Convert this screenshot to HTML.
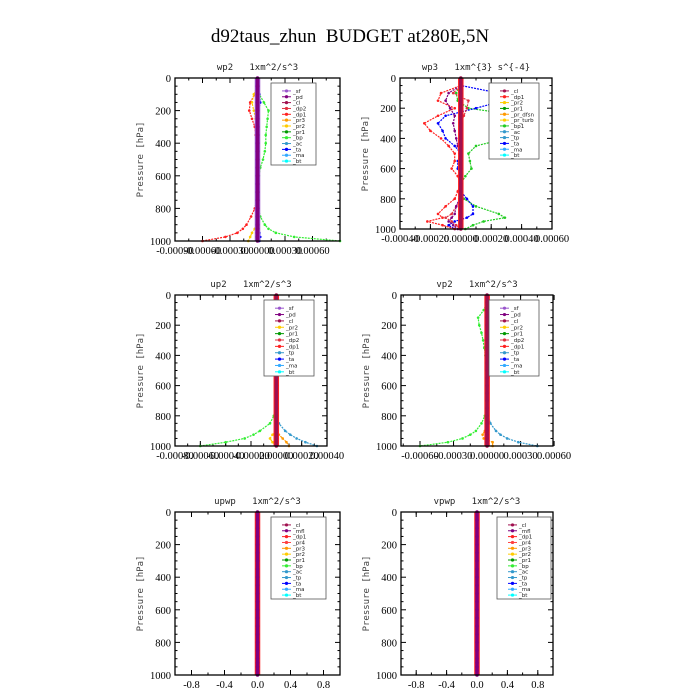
<!DOCTYPE html>
<html><head><meta charset="utf-8"><style>
body{margin:0;background:#fff}
svg{display:block}
text{white-space:pre}
.t{font-family:"Liberation Serif",serif;font-size:10.5px;fill:#000}
.pt{font-family:"DejaVu Sans Mono","Liberation Mono",monospace;font-size:9px;fill:#222}
.lg{font-family:"DejaVu Sans","Liberation Sans",sans-serif;font-size:5.5px;fill:#222}
.yl{font-family:"DejaVu Sans Mono","Liberation Mono",monospace;font-size:9px;fill:#444}
</style></head><body>
<svg id="c" width="700" height="700" viewBox="0 0 700 700">
<text x="350" y="42" text-anchor="middle" font-family="Liberation Serif,serif" font-size="19" xml:space="preserve">d92taus_zhun  BUDGET at280E,5N</text>
</svg>
<script>
// shared pressure levels (hPa)
const levels=[0,50,100,150,200,250,300,350,400,450,500,550,600,650,700,750,800,850,900,925,950,975,1000];
const yTicks=[0,200,400,600,800,1000];
// wp2 (x1e-4)
const wp2_bp =[0,0,0.2,0.7,1.2,1.1,1.0,0.9,0.9,0.8,0.6,0.3,0.15,0.1,0.05,0.05,0.1,0.3,0.8,1.2,2.0,4.0,9.0];
const wp2_dp1=[0,0,-0.3,-0.8,-0.9,-0.6,-0.3,-0.2,-0.1,-0.1,-0.05,0,0,0,0,-0.1,-0.3,-0.7,-1.2,-1.6,-2.2,-3.5,-6.0];
const wp2_pr2=[0,0,-0.4,-0.6,-0.4,-0.2,-0.1,0,0,0,0,0,0,0,0,0,0,0,-0.1,-0.3,-0.6,-0.8,-1.0];
const wp2_ta =[0,0,0.2,0.3,0.1,0,0,0,0,0,0,0,0,0,0,0,0,0,0,0,0.2,0.3,0.2];
// wp3 (x1e-4)
const wp3_bp1=[0,0,-0.3,-0.2,0.5,4.0,4.6,3.5,3.0,1.0,0.5,0.6,0.7,0.3,0,0,0.2,1.0,2.5,2.9,1.5,0.8,0.3];
const wp3_ta =[0,0,2.5,2.8,1.0,-1.0,-1.5,-1.2,-1.0,-0.4,0,-0.2,-0.2,0,0,0,0.4,0.8,0.8,0.4,-0.4,-0.8,-0.4];
const wp3_pr1=[0,0,-1.3,-1.5,-0.4,-1.5,-2.4,-2.0,-1.3,-0.8,-0.4,-0.4,-0.6,-0.2,0,-0.2,-0.4,-1.0,-1.5,-1.2,-2.2,-1.2,-0.4];
const wp3_pr2=[0,0,-0.5,0.5,0.4,0.2,0,0,0,0,0,0,0,0,0,0,0,-0.3,-0.6,-1.0,-0.6,-0.3,0];
const wp3_cl =[0,0,-0.8,-1.0,-0.7,-0.4,-0.5,-0.4,-0.3,-0.2,-0.1,-0.1,-0.1,-0.1,0,0,-0.1,-0.3,-0.4,-0.6,-0.8,-0.5,-0.2];
// up2 (x1e-4)
const up2_dp1=[0,0,-0.3,-0.8,-0.7,-0.5,-0.35,-0.25,-0.15,-0.1,-0.05,0,0,0,0,-0.05,-0.2,-0.5,-1.3,-1.8,-2.5,-4.0,-6.0];
const up2_tp =[0,0,0.3,0.5,0.4,0.3,0.2,0.1,0,0,0,0,0,0,0,0,0.1,0.2,0.7,1.1,1.6,2.3,3.2];
const up2_pr2=[0,0,-0.3,-0.3,-0.2,0,0,0,0,0,0,0,0,0,0,0,0,0,0,0.2,0.5,0.8,1.0];
const up2_pr1=[0,0,-0.5,-0.4,-0.2,-0.1,0,0,0,0,0,0,0,0,0,0,0,0,0,-0.3,-0.5,-0.3,0];
// vp2 (x1e-4)
const vp2_dp1=[0,0,-0.3,-0.8,-0.7,-0.5,-0.35,-0.25,-0.15,-0.1,-0.05,0,0,0,0,-0.05,-0.2,-0.5,-1.0,-1.5,-2.2,-3.5,-6.0];
const vp2_tp =[0,0,0.3,0.7,0.4,0.2,0.1,0,0,0,0,0,0,0,0,0,0.1,0.3,0.8,1.2,1.8,2.8,4.5];
const vp2_pr2=[0,0,0,0.2,0.3,0.1,0,0,0,0,0,0,0,0,0,0,0,0,-0.2,-0.4,-0.3,0.5,0.5];
const zeroSeries=[0,0,0,0,0,0,0,0,0,0,0,0,0,0,0,0,0,0,0,0,0,0,0];
// legend labels
const leg1=["_sf","_pd","_cl","_dp2","_dp1","_pr3","_pr2","_pr1","_bp","_ac","_ta","_ma","_bt"];
const leg2=["_cl","_dp1","_pr2","_pr1","_pr_dfsn","_pr_turb","_bp1","_ac","_tp","_ta","_ma","_bt"];
const leg3=["_sf","_pd","_cl","_pr2","_pr1","_dp2","_dp1","_tp","_ta","_ma","_bt"];
const leg5=["_cl","_mfl","_dp1","_pr4","_pr3","_pr2","_pr1","_bp","_ac","_tp","_ta","_ma","_bt"];
const xt1=[-9,-6,-3,0,3,6], xl1=["-0.00090","-0.00060","-0.00030","0.00000","0.00030","0.00060"];
const xt2=[-4,-2,0,2,4,6], xl2=["-0.00040","-0.00020","0.00000","0.00020","0.00040","0.00060"];
const xt3=[-8,-6,-4,-2,0,2,4], xl3=["-0.00080","-0.00060","-0.00040","-0.00020","0.00000","0.00020","0.00040"];
const xt4=[-6,-3,0,3,6], xl4=["-0.00060","-0.00030","0.00000","0.00030","0.00060"];
const xt5=[-0.8,-0.4,0,0.4,0.8], xl5=["-0.8","-0.4","0.0","0.4","0.8"];

const col={sf:"#9955cc",pd:"#800080",cl:"#a0104f",dp2:"#e03040",dp1:"#ff2020",pr3:"#ff9900",pr2:"#ffcc00",pr1:"#009900",bp:"#33ee33",ac:"#3399cc",ta:"#0000ff",ma:"#33aaff",bt:"#00ffff",tp:"#3399cc",mfl:"#800080",pr4:"#ff4040",dfsn:"#ff9900",turb:"#ffcc00",bp1:"#22cc22"};
const lcol={_sf:col.sf,_pd:col.pd,_cl:col.cl,_dp2:col.dp2,_dp1:col.dp1,_pr3:col.pr3,_pr2:col.pr2,_pr1:col.pr1,_bp:col.bp,_ac:col.ac,_ta:col.ta,_ma:col.ma,_bt:col.bt,_tp:col.tp,_mfl:col.mfl,_pr4:col.pr4,_pr_dfsn:col.dfsn,_pr_turb:col.turb,_bp1:col.bp1};
const NS="http://www.w3.org/2000/svg", svg=document.getElementById('c');
function mk(t,a,p){const e=document.createElementNS(NS,t);for(const k in a)e.setAttribute(k,a[k]);(p||svg).appendChild(e);return e;}

const panels=[
 {id:"wp2",title:"wp2   1xm^2/s^3",x0:175,x1:340,y0:78,y1:241,xmin:-9,xmax:9,xt:xt1,xl:xl1,leg:leg1,lb:[271,83,316,165],thick:[col.pd,col.sf],
  series:[[wp2_bp,col.bp],[wp2_dp1,col.dp1],[wp2_pr2,col.pr2],[wp2_ta,col.ta]]},
 {id:"wp3",title:"wp3   1xm^{3} s^{-4}",x0:400,x1:552,y0:78,y1:229,xmin:-4,xmax:6,xt:xt2,xl:xl2,leg:leg2,lb:[489,83,539,159],thick:[col.cl,col.dp1],
  series:[[wp3_bp1,col.bp1],[wp3_ta,col.ta],[wp3_pr1,col.dp1],[wp3_pr2,col.dp2],[wp3_cl,col.pd]]},
 {id:"up2",title:"up2   1xm^2/s^3",x0:175,x1:327,y0:295,y1:446,xmin:-8,xmax:4,xt:xt3,xl:xl3,leg:leg3,lb:[264,300,314,376],thick:[col.cl,col.dp1],
  series:[[up2_dp1,col.bp],[up2_tp,col.ac],[up2_pr2,col.pr3],[up2_pr1,col.pr2]]},
 {id:"vp2",title:"vp2   1xm^2/s^3",x0:401,x1:553,y0:295,y1:446,xmin:-7.7,xmax:5.9,xt:xt4,xl:xl4,leg:leg3,lb:[489,300,539,376],thick:[col.cl,col.dp1],
  series:[[vp2_dp1,col.bp],[vp2_tp,col.ac],[vp2_pr2,col.pr3]]},
 {id:"upwp",title:"upwp   1xm^2/s^3",x0:175,x1:340,y0:512,y1:675,xmin:-1,xmax:1,xt:xt5,xl:xl5,leg:leg5,lb:[271,517,326,599],thick:[col.pd,col.dp1],series:[]},
 {id:"vpwp",title:"vpwp   1xm^2/s^3",x0:401,x1:553,y0:512,y1:675,xmin:-1,xmax:1,xt:xt5,xl:xl5,leg:leg5,lb:[497,517,551,599],thick:[col.pd,col.dp1],series:[]}
];

panels.forEach(P=>{
 const g=mk('g',{});
 
 
 const X=v=>P.x0+(v-P.xmin)/(P.xmax-P.xmin)*(P.x1-P.x0);
 const Y=p=>P.y0+p/1000*(P.y1-P.y0);
 const tt=mk('text',{x:(P.x0+P.x1)/2,y:P.y0-8,'text-anchor':'middle',class:'pt'},g);tt.textContent=P.title;
 
 
 const yl=mk('text',{x:0,y:0,'text-anchor':'middle',class:'yl',transform:`translate(${P.x0-32},${(P.y0+P.y1)/2}) rotate(-90)`},g);yl.textContent="Pressure [hPa]";
 
 
 yTicks.forEach(v=>{const y=Y(v);
  mk('line',{x1:P.x0,x2:P.x0+5,y1:y,y2:y,stroke:'#000'},g);mk('line',{x1:P.x1,x2:P.x1-5,y1:y,y2:y,stroke:'#000'},g);
  const t=mk('text',{x:P.x0-4,y:y+4,'text-anchor':'end',class:'t'},g);t.textContent=v;
  
  });
 for(let v=50;v<1000;v+=50){if(v%200==0)continue;const y=Y(v);mk('line',{x1:P.x0,x2:P.x0+2.5,y1:y,y2:y,stroke:'#000'},g);mk('line',{x1:P.x1,x2:P.x1-2.5,y1:y,y2:y,stroke:'#000'},g);}
 P.xt.forEach((v,i)=>{const x=X(v);
  mk('line',{x1:x,x2:x,y1:P.y1,y2:P.y1-5,stroke:'#000'},g);mk('line',{x1:x,x2:x,y1:P.y0,y2:P.y0+5,stroke:'#000'},g);
  const t=mk('text',{x:x,y:P.y1+13,'text-anchor':'middle',class:'t'},g);t.textContent=P.xl[i];
  
  });
 const step=P.xt[1]-P.xt[0];
 for(let v=P.xt[0]-step/2;v<P.xmax;v+=step/2){if(v<P.xmin)continue;const x=X(v);mk('line',{x1:x,x2:x,y1:P.y1,y2:P.y1-2.5,stroke:'#000'},g);mk('line',{x1:x,x2:x,y1:P.y0,y2:P.y0+2.5,stroke:'#000'},g);}
 P.series.forEach(([vals,c])=>{
  const pts=vals.map((v,i)=>X(v).toFixed(1)+','+Y(levels[i]).toFixed(1)).join(' ');
  const l=mk('polyline',{points:pts,fill:'none',stroke:c,'stroke-width':1.2,'stroke-dasharray':'2 1'},g);
  
  
  vals.forEach((v,i)=>{mk('circle',{cx:X(v),cy:Y(levels[i]),r:1.3,fill:c},g);});
 });
 const z=zeroSeries.map((v,i)=>X(v).toFixed(1)+','+Y(levels[i]).toFixed(1)).join(' ');
 mk('polyline',{points:z,fill:'none',stroke:P.thick[1],'stroke-width':5.5},g);
 const tl=mk('polyline',{points:z,fill:'none',stroke:P.thick[0],'stroke-width':3.5},g);
 
 
 zeroSeries.forEach((v,i)=>{mk('circle',{cx:X(v),cy:Y(levels[i]),r:1.8,fill:P.thick[0]},g);});
 mk('rect',{x:P.x0,y:P.y0,width:P.x1-P.x0,height:P.y1-P.y0,fill:'none',stroke:'#000','stroke-width':1.3},g);
 const [lx0,ly0,lx1,ly1]=P.lb;
 const lg=mk('g',{},g);
 
 
 mk('rect',{x:lx0,y:ly0,width:lx1-lx0,height:ly1-ly0,fill:'#fff',stroke:'#555','stroke-width':0.8},lg);
 const dy=(ly1-ly0-6)/P.leg.length;
 P.leg.forEach((n,i)=>{const y=ly0+5+dy*(i+0.5);const c=lcol[n]||'#888';
  mk('line',{x1:lx0+11,x2:lx0+20,y1:y,y2:y,stroke:c,'stroke-width':1},lg);
  mk('circle',{cx:lx0+15.5,cy:y,r:1.6,fill:c},lg);
  const t=mk('text',{x:lx0+22,y:y+2,class:'lg'},lg);t.textContent=n;
  
  });
});
</script>
</body></html>
